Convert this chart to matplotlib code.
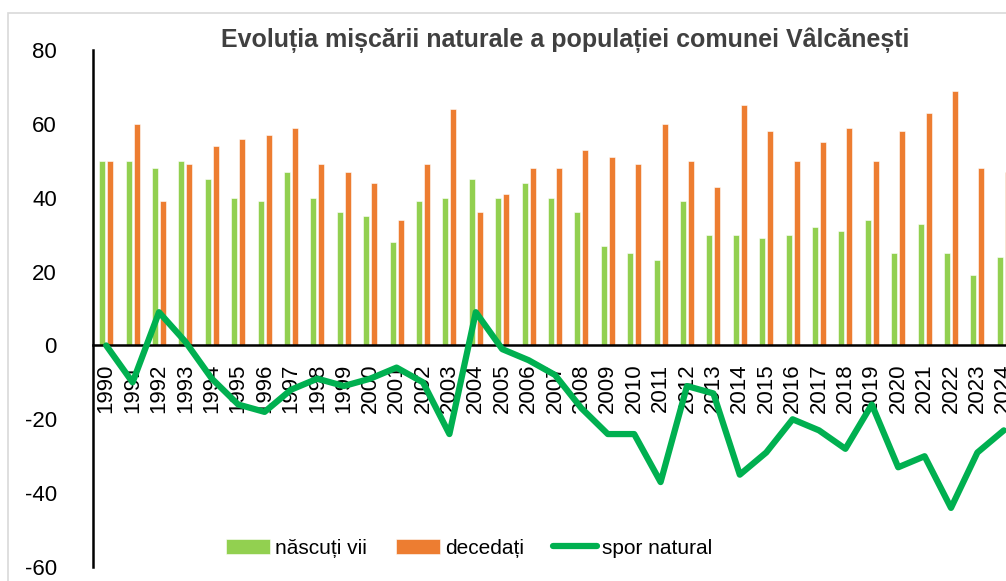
import matplotlib
matplotlib.use("Agg")
import matplotlib.pyplot as plt
from matplotlib.patches import Rectangle
import numpy as np

plt.rcParams['font.family'] = ['Liberation Sans', 'DejaVu Sans']
plt.rcParams['axes.unicode_minus'] = False

# data
years = [str(y) for y in range(1990, 2025)]
nascuti = [50, 50, 48, 50, 45, 40, 39, 47, 40, 36, 35, 28, 39, 40, 45, 40, 44, 40,
           36, 27, 25, 23, 39, 30, 30, 29, 30, 32, 31, 34, 25, 33, 25, 19, 24]
decedati = [50, 60, 39, 49, 54, 56, 57, 59, 49, 47, 44, 34, 49, 64, 36, 41, 48, 48,
            53, 51, 49, 60, 50, 43, 65, 58, 50, 55, 59, 50, 58, 63, 69, 48, 47]
spor = [0, -10, 9, 1, -9, -16, -18, -12, -9, -11, -9, -6, -10, -24, 9, -1, -4, -8,
        -17, -24, -24, -37, -11, -13, -35, -29, -20, -23, -28, -16, -33, -30, -44, -29, -23]

x = np.arange(len(years))
W, H = 1006, 581
fig = plt.figure(figsize=(W / 100, H / 100), dpi=100)

# chart border (the picture is cropped on the right)
fig.patches.append(Rectangle((8 / W, -0.1), 2, (H - 13) / H + 0.1, transform=fig.transFigure,
                             fill=False, edgecolor='#d9d9d9', linewidth=1.2))

ax = fig.add_axes([93 / W, 1 - 567 / H, 924 / W, 517 / H])
bw = 0.23
b1 = ax.bar(x - 0.15, nascuti, bw, color='#92D050', edgecolor='white', linewidth=0.4, label='născuți vii')
b2 = ax.bar(x + 0.15, decedati, bw, color='#ED7D31', edgecolor='white', linewidth=0.4, label='decedați')
l1, = ax.plot(x, spor, color='#00B050', linewidth=4.5, zorder=5, solid_capstyle='round',
              label='spor natural')

ax.set_xlim(-0.5, len(years) - 0.5)
ax.set_ylim(-60, 80)
ax.set_yticks(range(-60, 81, 20))
ax.set_xticks(x)
ax.set_xticklabels(years)

for s in ['top', 'right']:
    ax.spines[s].set_visible(False)
ax.spines['bottom'].set_position(('data', 0))
ax.spines['bottom'].set_linewidth(1.8)
ax.spines['left'].set_linewidth(1.8)
ax.tick_params(axis='both', length=0)
ax.tick_params(axis='y', labelsize=16, pad=26)
ax.tick_params(axis='x', labelsize=16, pad=13, labelrotation=90)

fig.text(565 / W, 1 - 40 / H, 'Evoluția mișcării naturale a populației comunei Vâlcănești',
         ha='center', va='center', fontsize=18, fontweight='bold', color='#404040')

fig.legend([b1, b2, l1], ['născuți vii', 'decedați', 'spor natural'],
           loc='center', bbox_to_anchor=(469 / W, 1 - 548 / H), ncol=3, frameon=False,
           fontsize=15, handlelength=2.1, handleheight=0.7, handletextpad=0.25,
           columnspacing=1.4)

fig.savefig('out.png', dpi=100)
